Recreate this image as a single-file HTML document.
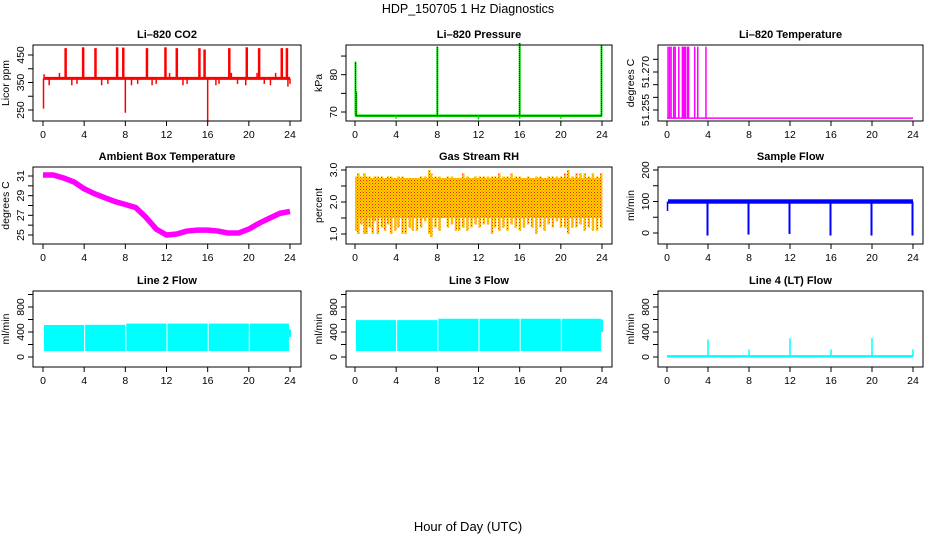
<!DOCTYPE html>
<html><head><meta charset="utf-8"><style>
body{margin:0;background:#fff;}
svg{display:block;font-family:"Liberation Sans",Arial,sans-serif;}
</style></head><body>
<svg id="chart" width="936" height="540" viewBox="0 0 936 540">
<defs>
<pattern id="rhpat" width="3" height="3" patternUnits="userSpaceOnUse"><rect width="3" height="3" fill="#ffd000"/><rect width="1" height="1" fill="#ff2000"/><rect x="1.5" y="1.5" width="1" height="1" fill="#ff5000"/></pattern>
</defs>
<text x="468" y="13" text-anchor="middle" font-size="12.5">HDP_150705  1 Hz Diagnostics</text>
<text x="468" y="531" text-anchor="middle" font-size="13">Hour of Day (UTC)</text>
</svg>
<script>
// ---- data ----
const hourTicks = [0,4,8,12,16,20,24];
const co2Base = 365;
const co2SpikeHours = [2.2,3.9,5.1,7.2,7.8,10.1,11.9,13.0,15.2,15.7,18.1,19.8,21.0,23.2,23.7];
const co2SpikeVals = [475,478,475,478,477,475,478,475,475,470,475,478,475,475,475];
const co2DipHours = [0.05,0.1,8.0,16.0,0.6,1.6,2.8,3.3,5.7,6.3,8.6,9.2,10.6,11.0,12.3,13.6,14.0,16.8,17.1,18.3,18.9,19.7,20.8,21.5,22.1,22.6,23.8,24.0];
const co2DipVals = [255,380,240,205,340,385,340,345,340,345,340,345,340,345,385,340,345,340,345,385,345,340,385,345,340,385,335,345];
const presBase = 69;
const presSpikeHours = [0.05,0.12,8.0,16.0,23.95];
const presSpikeVals = [83.5,75.5,87.5,88.5,88];
const presDipHours = [4,12,16,20];
const presDipVals = [68.2,68,68.2,68.2];
const tempBase = 51.2518;
const tempSpikeHours = [0.1,0.25,0.4,0.65,0.8,1.15,1.5,1.6,1.7,1.8,2.0,2.1,2.7,3.0,3.8];
const tempSpikeVals = [51.28,51.28,51.28,51.28,51.28,51.28,51.28,51.28,51.28,51.28,51.28,51.28,51.28,51.28,51.28];
const ambHours = [0,1,2,3,4,5,6,7,8,9,10,11,12,13,14,15,16,17,18,19,20,21,22,23,24];
const ambVals = [31.1,31.1,30.8,30.4,29.7,29.2,28.8,28.4,28.1,27.8,26.8,25.6,25.0,25.1,25.4,25.5,25.5,25.4,25.2,25.2,25.6,26.2,26.7,27.2,27.4];
const rhHours = [0.1,0.3,0.6,0.9,1.1,1.4,1.7,1.9,2.2,2.6,2.9,3.2,3.5,3.9,4.2,4.6,4.9,5.3,5.6,6.0,6.4,6.8,7.2,7.4,7.8,8.2,8.6,9.0,9.4,9.8,10.1,10.5,10.9,11.3,11.7,12.1,12.5,12.9,13.3,13.6,14.0,14.4,14.8,15.2,15.6,16.0,16.4,16.8,17.2,17.6,18.0,18.4,18.8,19.2,19.6,20.0,20.4,20.7,21.1,21.5,21.9,22.3,22.7,23.1,23.5,23.9];
const rhLows = [1.1,1.0,1.3,1.0,1.0,1.2,1.0,1.4,1.0,1.2,1.1,1.3,1.0,1.1,1.2,1.0,1.0,1.2,1.1,1.1,1.2,1.4,1.0,0.9,1.2,1.1,1.5,1.2,1.3,1.1,1.1,1.2,1.1,1.2,1.3,1.2,1.3,1.3,1.0,1.2,1.1,1.2,1.1,1.3,1.2,1.1,1.2,1.3,1.2,1.0,1.2,1.1,1.3,1.2,1.4,1.2,1.2,1.0,1.2,1.2,1.3,1.1,1.2,1.1,1.1,1.2];
const rhHighs = [2.8,2.9,2.8,2.9,2.8,2.8,2.7,2.8,2.8,2.8,2.7,2.8,2.8,2.7,2.8,2.8,2.7,2.7,2.7,2.7,2.8,2.8,3.0,2.9,2.8,2.8,2.7,2.8,2.8,2.7,2.7,2.9,2.8,2.7,2.8,2.8,2.8,2.8,2.8,2.8,2.9,2.8,2.8,2.9,2.8,2.8,2.7,2.8,2.7,2.8,2.8,2.7,2.8,2.8,2.8,2.8,2.9,3.0,2.8,2.9,2.9,2.9,2.8,2.9,2.8,2.9];
const sfBase = 100;
const sfDipHours = [4,8,12,16,20,24];
const sfDipVals = [-8,-5,-3,-8,-8,-8];
const l2BlockStart = [0,4,8,12,16,20];
const l2BlockEnd = [3.9,7.9,11.9,15.9,19.9,23.8];
const l2Top = [512,515,535,535,535,535];
const l2Bottom = [96,96,96,96,96,96];
const l3Top = [590,590,612,612,612,612];
const l3Bottom = [96,96,96,96,96,96];
const l4Base = 10;
const l4SpikeHours = [4,8,12,16,20,24];
const l4SpikeVals = [280,120,300,120,300,120];

// ---- drawing ----
const NS = "http://www.w3.org/2000/svg";
const svg = document.getElementById('chart');
function mk(tag, attrs, parent){
  const e = document.createElementNS(NS, tag);
  for (const k in attrs) e.setAttribute(k, attrs[k]);
  (parent||svg).appendChild(e);
  return e;
}
const cols = [{l:33,r:301,x0:43,x1:290},{l:346,r:612,x0:355,x1:602},{l:658,r:923,x0:667,x1:913}];
const rows = [{t:45,b:121},{t:167,b:244},{t:291,b:367}];

function panel(ci, ri, name, title, ylab, v0, y0, v1, y1, ticks, labels){
  const c = cols[ci], r = rows[ri];
  const g = mk('g', {});
  
  
  const xs = h => c.x0 + (c.x1 - c.x0) * h / 24;
  const ys = v => y0 + (y1 - y0) * (v - v0) / (v1 - v0);
  const t = mk('text', {x:(c.l+c.r)/2, y:r.t-7, 'text-anchor':'middle', 'font-size':11, 'font-weight':'bold'}, g);
  t.textContent = title;
  
  
  const yl = mk('text', {x:0, y:0, transform:`translate(${c.l-24},${(r.t+r.b)/2}) rotate(-90)`, 'text-anchor':'middle', 'font-size':10.5}, g);
  yl.textContent = ylab;
  
  
  hourTicks.forEach(h => {
    mk('line', {x1:xs(h), x2:xs(h), y1:r.b, y2:r.b+5, stroke:'#000'}, g);
    const tl = mk('text', {x:xs(h), y:r.b+17, 'text-anchor':'middle', 'font-size':10.5}, g);
    tl.textContent = h;
    
    
  });
  ticks.forEach(v => {
    mk('line', {x1:c.l, x2:c.l-5, y1:ys(v), y2:ys(v), stroke:'#000'}, g);
  });
  labels.forEach(v => {
    const tl = mk('text', {x:0, y:0, transform:`translate(${c.l-9},${ys(v)}) rotate(-90)`, 'text-anchor':'middle', 'font-size':10.5}, g);
    tl.textContent = v;
    
    
  });
  const plot = mk('g', {}, g);
  
  
  mk('rect', {x:c.l, y:r.t, width:c.r-c.l, height:r.b-r.t, fill:'none', stroke:'#000'}, g);
  return {xs, ys, plot};
}
function vline(p, x, ya, yb, color, w){
  return mk('line', {x1:x, x2:x, y1:ya, y2:yb, stroke:color, 'stroke-width':w||1.5}, p);
}

// CO2
(function(){
  const P = panel(0,0,'co2-panel','Li\u2013820 CO2','Licor ppm',250,110,350,82.5,[250,300,350,400,450],[250,350,450]);
  mk('line',{x1:P.xs(0.1),x2:P.xs(24),y1:P.ys(co2Base),y2:P.ys(co2Base),stroke:'red','stroke-width':3},P.plot);
  co2SpikeHours.forEach((h,i)=>{ vline(P.plot,P.xs(h),P.ys(co2Base),P.ys(co2SpikeVals[i]),'red',2.5); });
  co2DipHours.forEach((h,i)=>{ vline(P.plot,P.xs(h),P.ys(co2Base),P.ys(co2DipVals[i]),'red',1.5); });
})();
// Pressure
(function(){
  const P = panel(1,0,'pressure-panel','Li\u2013820 Pressure','kPa',70,112,80,74.7,[70,75,80,85],[70,80]);
  mk('line',{x1:P.xs(0.05),x2:P.xs(24),y1:P.ys(presBase),y2:P.ys(presBase),stroke:'#00e000','stroke-width':2.5},P.plot);
  mk('line',{x1:P.xs(0.05),x2:P.xs(24),y1:P.ys(presBase),y2:P.ys(presBase),stroke:'#000','stroke-width':1,'stroke-dasharray':'1 1'},P.plot);
  presDipHours.forEach((h,i)=>{ vline(P.plot,P.xs(h),P.ys(presBase),P.ys(presDipVals[i]),'#00e000',1.5); });
  presSpikeHours.forEach((h,i)=>{ vline(P.plot,P.xs(h),P.ys(presBase),P.ys(presSpikeVals[i]),'#00e000',2);
    mk('line',{x1:P.xs(h),x2:P.xs(h),y1:P.ys(presBase),y2:P.ys(presSpikeVals[i]),stroke:'#000','stroke-width':1,'stroke-dasharray':'1 1'},P.plot); });
})();
// Li-820 temp
(function(){
  const P = panel(2,0,'li820-temperature-panel','Li\u2013820 Temperature','degrees C',51.255,110,51.270,72,[51.255,51.26,51.265,51.27,51.275],['51.255','51.270']);
  mk('line',{x1:P.xs(0),x2:P.xs(24),y1:P.ys(tempBase),y2:P.ys(tempBase),stroke:'magenta','stroke-width':1.5},P.plot);
  tempSpikeHours.forEach((h,i)=>{ vline(P.plot,P.xs(h),P.ys(tempBase),Math.max(P.ys(tempSpikeVals[i]),46),'magenta',1.5); });
})();
// Ambient box temp
(function(){
  const P = panel(0,1,'ambient-temperature-panel','Ambient Box Temperature','degrees C',25,235,31,176,[25,26,27,28,29,30,31],[25,27,29,31]);
  const pts = ambHours.map((h,i)=>P.xs(h)+','+P.ys(ambVals[i])).join(' ');
  mk('polyline',{points:pts,fill:'none',stroke:'magenta','stroke-width':5.5,'stroke-linejoin':'round'},P.plot);
})();
// Gas stream RH
(function(){
  const P = panel(1,1,'gas-stream-rh-panel','Gas Stream RH','percent',1.0,234,3.0,170,[1.0,1.5,2.0,2.5,3.0],['1.0','2.0','3.0']);
  mk('rect',{x:P.xs(0.1),y:P.ys(2.75),width:P.xs(24)-P.xs(0.1),height:P.ys(1.5)-P.ys(2.75),fill:'url(#rhpat)'},P.plot);
  rhHours.forEach((h,i)=>{
    const x=P.xs(h);
    mk('rect',{x:x-1,y:P.ys(rhHighs[i]),width:2.4,height:P.ys(rhLows[i])-P.ys(rhHighs[i]),fill:'url(#rhpat)'},P.plot);
  });
})();
// Sample flow
(function(){
  const P = panel(2,1,'sample-flow-panel','Sample Flow','ml/min',0,233,200,170,[0,50,100,150,200],[0,100,200]);
  mk('rect',{x:P.xs(0.1),y:P.ys(107),width:P.xs(24)-P.xs(0.1),height:P.ys(93)-P.ys(107),fill:'blue'},P.plot);
  vline(P.plot,P.xs(0.05),P.ys(100),P.ys(70),'blue',1.5);
  sfDipHours.forEach((h,i)=>{ vline(P.plot,P.xs(h)-0.5,P.ys(sfBase),P.ys(sfDipVals[i]),'blue',2); });
})();
// Line flows
function linePanel(ci,name,title,tops,bots){
  const P = panel(ci,2,name,title,'ml/min',0,357,800,307,[0,200,400,600,800,1000],[0,400,800]);
  l2BlockStart.forEach((s,i)=>{
    mk('rect',{x:P.xs(s)+1,y:P.ys(tops[i]),width:P.xs(l2BlockEnd[i])-P.xs(s),height:P.ys(bots[i])-P.ys(tops[i]),fill:'cyan'},P.plot);
  });
  return P;
}
(function(){
  const P = linePanel(0,'line2-flow-panel','Line 2 Flow',l2Top,l2Bottom);
  vline(P.plot,P.xs(24),P.ys(440),P.ys(320),'cyan',2);
})();
(function(){
  const P = linePanel(1,'line3-flow-panel','Line 3 Flow',l3Top,l3Bottom);
  vline(P.plot,P.xs(24),P.ys(600),P.ys(400),'cyan',2);
})();
(function(){
  const P = panel(2,2,'line4-flow-panel','Line 4 (LT) Flow','ml/min',0,357,800,307,[0,200,400,600,800,1000],[0,400,800]);
  mk('line',{x1:P.xs(0),x2:P.xs(24),y1:P.ys(l4Base),y2:P.ys(l4Base),stroke:'cyan','stroke-width':2.5},P.plot);
  l4SpikeHours.forEach((h,i)=>{ vline(P.plot,P.xs(h),P.ys(l4Base),P.ys(l4SpikeVals[i]),'cyan',1.5); });
})();
</script>
</body></html>
